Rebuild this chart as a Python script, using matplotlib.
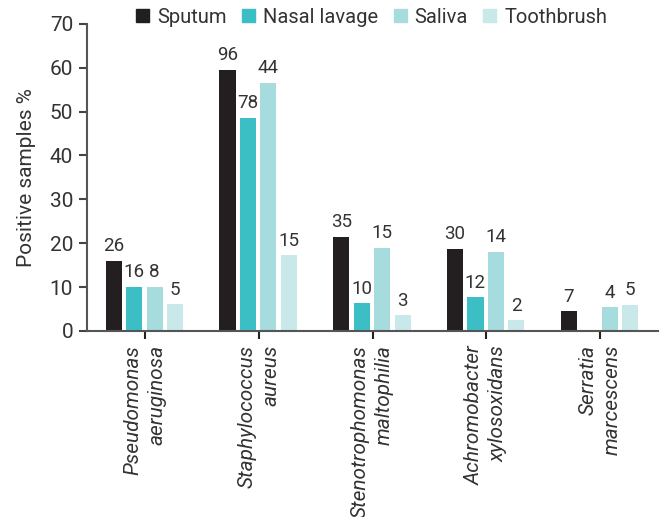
import numpy as np
import matplotlib.pyplot as plt
from matplotlib.patches import Patch

plt.rcParams['font.family'] = ['Roboto', 'DejaVu Sans']

categories = ['Pseudomonas\naeruginosa', 'Staphylococcus\naureus',
              'Stenotrophomonas\nmaltophilia', 'Achromobacter\nxylosoxidans',
              'Serratia\nmarcescens']
series = ['Sputum', 'Nasal lavage', 'Saliva', 'Toothbrush']
colors = ['#231f20', '#3bbfc4', '#a7dcdf', '#c9e8e9']

# percent of positive samples (bar heights)
sputum = [16.0, 59.5, 21.5, 18.7, 4.5]
nasal = [10.0, 48.6, 6.3, 7.7, 0.0]
saliva = [10.0, 56.5, 19.0, 18.0, 5.4]
toothbrush = [6.1, 17.2, 3.6, 2.4, 5.9]

# counts printed on top of bars
sputum_n = ['26', '96', '35', '30', '7']
nasal_n = ['16', '78', '10', '12', '']
saliva_n = ['8', '44', '15', '14', '4']
toothbrush_n = ['5', '15', '3', '2', '5']

values = [sputum, nasal, saliva, toothbrush]
counts = [sputum_n, nasal_n, saliva_n, toothbrush_n]

txt = '#333333'
fig = plt.figure(figsize=(6.64, 5.17), dpi=100)
ax = fig.add_axes([0.131, 0.360, 0.860, 0.594])

x = np.arange(len(categories))
offsets = [-0.275, -0.095, 0.085, 0.265]
width = 0.142
for vals, cnt, col, off in zip(values, counts, colors, offsets):
    bars = ax.bar(x + off, vals, width, color=col)
    ax.bar_label(bars, labels=cnt, padding=4, fontsize=13.5, color=txt)

ax.set_xlim(-0.51, 4.51)
ax.set_ylim(0, 70)
ax.set_yticks(range(0, 71, 10))
ax.set_xticks(x)
ax.set_xticklabels(categories, rotation=90, style='italic', fontsize=15,
                   color=txt, multialignment='right', linespacing=1.35)
ax.tick_params(axis='y', labelsize=15, labelcolor=txt, length=6, width=1.5,
               color='#444444', pad=4)
ax.tick_params(axis='x', length=6, width=1.5, color='#222222', pad=4)
for s in ['top', 'right']:
    ax.spines[s].set_visible(False)
for s in ['left', 'bottom']:
    ax.spines[s].set_color('#555555')
    ax.spines[s].set_linewidth(1.5)
ax.set_ylabel('Positive samples %', fontsize=15, color=txt, labelpad=10)

handles = [Patch(color=c) for c in colors]
fig.legend(handles, series, loc='center', bbox_to_anchor=(0.56, 0.967), ncol=4,
           frameon=False, fontsize=14.5, handlelength=0.65, handleheight=0.65,
           handletextpad=0.4, columnspacing=0.75, labelcolor=txt)

fig.savefig('out.png', dpi=100)
